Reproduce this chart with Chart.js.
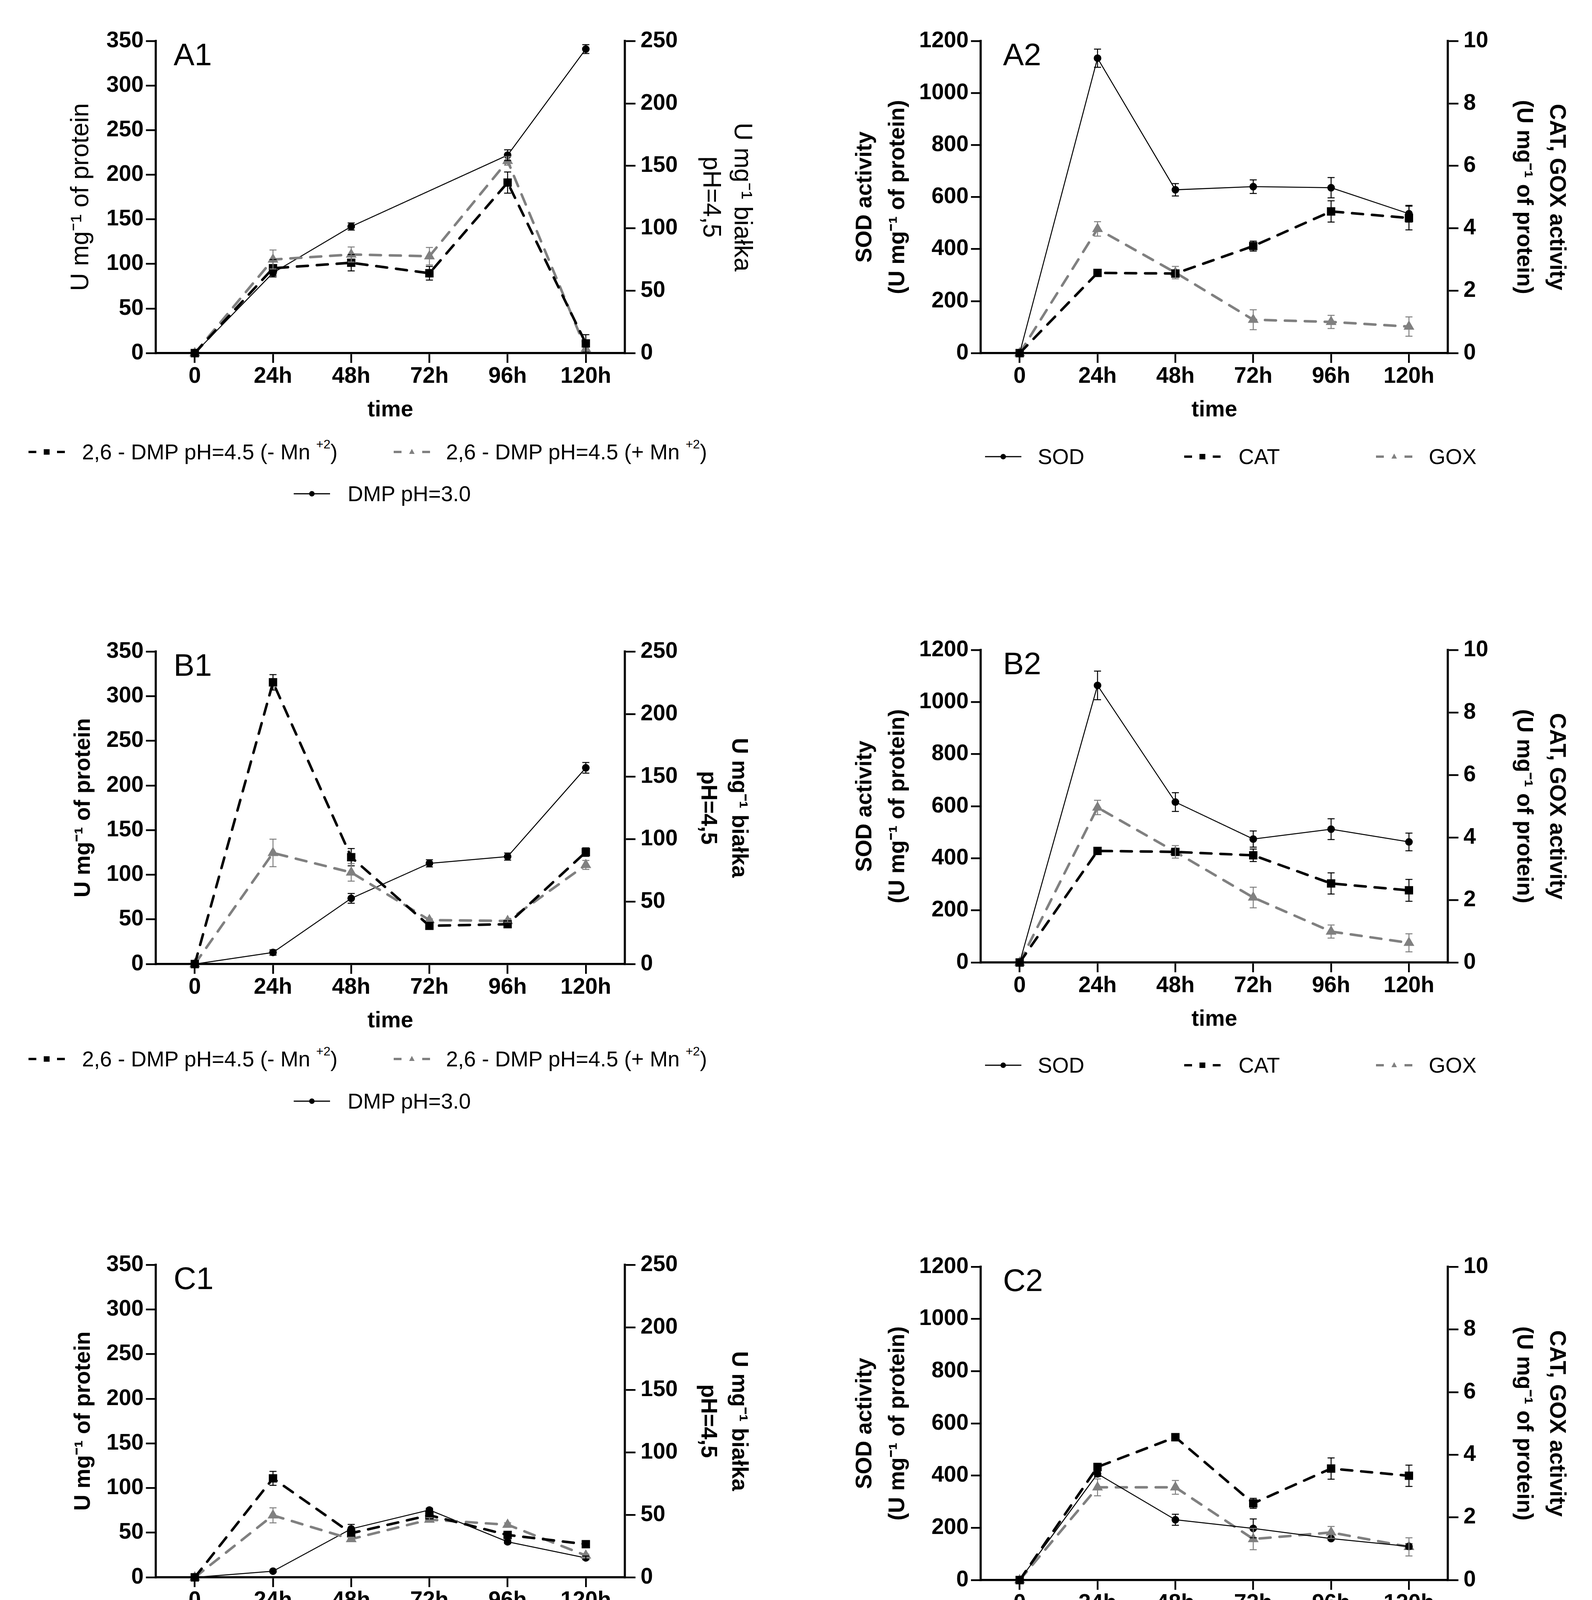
<!DOCTYPE html>
<html>
<head>
<meta charset="utf-8">
<script src="https://cdn.jsdelivr.net/npm/chart.js@4.4.1/dist/chart.umd.min.js"></script>
<style>
  html, body { margin: 0; padding: 0; background: #fff; }
  body { width: 4076px; height: 4472px; position: relative; overflow: hidden;
         font-family: "Liberation Sans", Arial, sans-serif; }
  canvas { position: absolute; }
  .legend-item { position: absolute; display: flex; align-items: center; height: 60px;
                 font-size: 55px; line-height: 60px; color: #000; white-space: nowrap; }
  .legend-item svg { flex: none; }
  .legend-item sup { font-size: 32px; line-height: 0; vertical-align: 0; position: relative; top: -28px; }
</style>
</head>
<body>
<script>
// ---- data ----
const timeLabels = ["0", "24h", "48h", "72h", "96h", "120h"];

// axis ranges: [min, max, step]
const col1LeftRange = [0, 350, 50];
const col1RightRange = [0, 250, 50];
const col2LeftRange = [0, 1200, 200];
const col2RightRange = [0, 10, 2];

// A1 (pH 4.5 series on the right axis)
const a1Dmp30 = [0, 90, 142, null, 222, 341];
const a1Dmp30Err = [0, 3, 4, 0, 6, 5];
const a1MinusMn = [0, 68, 72.4, 64, 136.6, 7.8];
const a1MinusMnErr = [0, 7, 6.5, 5.5, 8.5, 7];
const a1PlusMn = [0, 75, 79, 77.6, 154, 3.4];
const a1PlusMnErr = [0, 7.6, 6, 7, 3.5, 0];

// A2 (CAT, GOX on the right axis)
const a2Sod = [0, 1134, 628, 640, 636, 536];
const a2SodErr = [0, 35, 24, 26, 39, 32];
const a2Cat = [0, 2.57, 2.55, 3.43, 4.54, 4.33];
const a2CatErr = [0, 0.05, 0.08, 0.16, 0.34, 0.38];
const a2Gox = [0, 3.98, 2.58, 1.07, 1.0, 0.85];
const a2GoxErr = [0, 0.23, 0.2, 0.32, 0.21, 0.31];

// B1
const b1Dmp30 = [0, 13, 73.6, 112.8, 120.4, 219.8];
const b1Dmp30Err = [0, 3, 5.5, 4, 4, 6];
const b1MinusMn = [0, 225.4, 85.5, 30.6, 31.9, 89.6];
const b1MinusMnErr = [0, 6.2, 6.9, 1.5, 1.5, 3.4];
const b1PlusMn = [0, 88.9, 73.3, 35.2, 34.5, 79.3];
const b1PlusMnErr = [0, 11, 7, 1, 1, 3.6];

// B2
const b2Sod = [0, 1064, 616, 474, 512, 463];
const b2SodErr = [0, 55, 36, 31, 40, 34];
const b2Cat = [0, 3.57, 3.54, 3.43, 2.53, 2.31];
const b2CatErr = [0, 0.05, 0.05, 0.2, 0.34, 0.35];
const b2Gox = [0, 4.96, 3.54, 2.08, 0.99, 0.63];
const b2GoxErr = [0, 0.23, 0.2, 0.33, 0.21, 0.29];

// C1
const c1Dmp30 = [0, 6.9, 54.3, 75.4, 39.8, 21.8];
const c1Dmp30Err = [0, 1.5, 5, 2, 2, 2];
const c1MinusMn = [0, 79.2, 35.3, 49.7, 33.9, 26.5];
const c1MinusMnErr = [0, 5.6, 1.5, 1.5, 1.5, 1];
const c1PlusMn = [0, 49.6, 30.6, 46.2, 42.1, 17.5];
const c1PlusMnErr = [0, 6, 1.5, 1.5, 1.5, 1];

// C2
const c2Sod = [0, 407, 231, 198, 159, 129];
const c2SodErr = [0, 10, 21, 36, 6, 10];
const c2Cat = [0, 3.61, 4.56, 2.45, 3.56, 3.33];
const c2CatErr = [0, 0.05, 0.05, 0.16, 0.34, 0.34];
const c2Gox = [0, 2.96, 2.96, 1.31, 1.52, 1.06];
const c2GoxErr = [0, 0.27, 0.22, 0.34, 0.19, 0.29];

const labelMinusMn = "2,6 - DMP pH=4.5 (- Mn ⁺²)";
const labelPlusMn = "2,6 - DMP pH=4.5 (+ Mn ⁺²)";
const labelDmp30 = "DMP pH=3.0";

// ---- styles / layout ----
const FONT = '"Liberation Sans", Arial, sans-serif';
Chart.defaults.font.family = FONT;
Chart.defaults.color = "#000";

const GRAY = "#808080";
const STYLE = {
  solid: { borderColor: "#000", backgroundColor: "#000", borderWidth: 2.5,
           pointStyle: "circle", pointRadius: 8.5 },
  blackDash: { borderColor: "#000", backgroundColor: "#000", borderWidth: 6.5,
               borderDash: [28, 23], borderCapStyle: "round", pointStyle: "rect", pointRadius: 10.5 },
  grayDash: { borderColor: GRAY, backgroundColor: GRAY, borderWidth: 6.5,
              borderDash: [28, 23], borderCapStyle: "round", pointStyle: "triangle", pointRadius: 9.5 }
};

const PAD_TOP = 80;
const X_AXIS_H = 180;
const COL = {
  1: { left: 0, width: 2000, leftW: 398.6, rightW: 400, labelDx: 46 },
  2: { left: 2040, width: 2036, leftW: 471, rightW: 369, labelDx: 57 }
};

// error bars drawn through the dataset's own y scale
const errorBars = {
  id: "errorBars",
  afterDatasetsDraw(chart) {
    const { ctx, chartArea } = chart;
    chart.data.datasets.forEach((ds, i) => {
      if (!ds.errors) return;
      const meta = chart.getDatasetMeta(i);
      const ys = chart.scales[meta.yAxisID];
      ctx.save();
      ctx.beginPath();
      ctx.rect(chartArea.left, chartArea.top - 40, chartArea.width, chartArea.height + 40);
      ctx.clip();
      ctx.strokeStyle = ds.borderColor;
      ctx.lineWidth = 2.5;
      meta.data.forEach((pt, j) => {
        const v = ds.data[j], e = ds.errors[j];
        if (v == null || !e) return;
        const x = pt.x;
        const y1 = ys.getPixelForValue(v + e);
        const y2 = ys.getPixelForValue(v - e);
        ctx.beginPath();
        ctx.moveTo(x, y1); ctx.lineTo(x, y2);
        ctx.moveTo(x - 9, y1); ctx.lineTo(x + 9, y1);
        ctx.moveTo(x - 9, y2); ctx.lineTo(x + 9, y2);
        ctx.stroke();
      });
      ctx.restore();
    });
  }
};

const panelLabel = {
  id: "panelLabel",
  afterDraw(chart, args, opts) {
    const { ctx, chartArea } = chart;
    ctx.save();
    ctx.font = "80px " + FONT;
    ctx.fillStyle = "#000";
    ctx.textBaseline = "alphabetic";
    ctx.fillText(opts.text, chartArea.left + opts.dx, chartArea.top + 62);
    ctx.restore();
  }
};

function axisCommon(tickLen, pad) {
  return {
    grid: { display: true, drawOnChartArea: false, drawTicks: true, tickLength: tickLen,
            lineWidth: 4.5, tickWidth: 4.5, tickColor: "#000", color: "#000" },
    border: { display: true, color: "#000", width: 5.5 },
    ticks: { color: "#000", font: { size: 57, weight: "bold" }, padding: pad }
  };
}

function yAxis(range, position, width, title) {
  const c = axisCommon(position === "left" ? 25 : 27, position === "left" ? 6 : 13);
  return Object.assign(c, {
    type: "linear", position, min: range[0], max: range[1],
    ticks: Object.assign(c.ticks, { stepSize: range[2], callback: v => String(v) }),
    title: Object.assign({ display: true, color: "#000", align: "center" }, title),
    afterFit: s => { s.width = width; }
  });
}

function makePanel(p) {
  const g = COL[p.col];
  const canvas = document.createElement("canvas");
  canvas.width = g.width;
  canvas.height = PAD_TOP + (p.B - p.T) + X_AXIS_H;
  canvas.style.left = g.left + "px";
  canvas.style.top = (p.T - PAD_TOP) + "px";
  document.body.appendChild(canvas);

  const xc = axisCommon(25, 1);
  const x = Object.assign(xc, {
    type: "category", offset: true,
    ticks: Object.assign(xc.ticks, { autoSkip: false, maxRotation: 0, minRotation: 0 }),
    title: { display: true, text: "time", color: "#000",
             font: { size: 57, weight: "bold", lineHeight: 1.2 }, padding: { top: 0, bottom: 0 } },
    afterFit: s => { s.height = X_AXIS_H; }
  });
  x.grid.offset = false;

  const chart = new Chart(canvas, {
    type: "line",
    data: { labels: timeLabels, datasets: p.datasets },
    options: {
      responsive: false, animation: false, devicePixelRatio: 1,
      layout: { padding: { top: PAD_TOP, left: 0, right: 0, bottom: 0 } },
      spanGaps: true,
      elements: { line: { tension: 0, fill: false }, point: { borderWidth: 1 } },
      scales: {
        x,
        y: yAxis(p.leftRange, "left", g.leftW, p.leftTitle),
        y1: yAxis(p.rightRange, "right", g.rightW, p.rightTitle)
      },
      plugins: {
        legend: { display: false },
        tooltip: { enabled: false },
        panelLabel: { text: p.id, dx: g.labelDx }
      }
    },
    plugins: [errorBars, panelLabel]
  });
  buildLegend(chart, p);
  return chart;
}

// HTML legend built from the chart's own datasets
const SVGNS = "http://www.w3.org/2000/svg";
function sampleSvg(ds, w) {
  const svg = document.createElementNS(SVGNS, "svg");
  svg.setAttribute("width", w); svg.setAttribute("height", 60);
  const line = document.createElementNS(SVGNS, "line");
  line.setAttribute("x1", 0); line.setAttribute("x2", 93);
  line.setAttribute("y1", 30); line.setAttribute("y2", 30);
  line.setAttribute("stroke", ds.borderColor);
  line.setAttribute("stroke-width", ds.borderDash ? 6 : 3);
  if (ds.borderDash) line.setAttribute("stroke-dasharray", "20 53 20");
  svg.appendChild(line);
  let m;
  if (ds.pointStyle === "circle") {
    m = document.createElementNS(SVGNS, "circle");
    m.setAttribute("cx", 46.5); m.setAttribute("cy", 30); m.setAttribute("r", 7);
  } else if (ds.pointStyle === "rect") {
    m = document.createElementNS(SVGNS, "rect");
    m.setAttribute("x", 39); m.setAttribute("y", 23); m.setAttribute("width", 15); m.setAttribute("height", 14);
  } else {
    m = document.createElementNS(SVGNS, "polygon");
    m.setAttribute("points", "46.5,22 53.5,35 39.5,35");
  }
  m.setAttribute("fill", ds.borderColor);
  svg.appendChild(m);
  return svg;
}

function buildLegend(chart, p) {
  chart.data.datasets.forEach((ds, i) => {
    const s = p.legendSlots[i];
    const item = document.createElement("div");
    item.className = "legend-item";
    item.style.left = s.x + "px";
    item.style.top = (p.legendRows[s.row] - 30) + "px";
    item.appendChild(sampleSvg(ds, s.tx - s.x));
    const span = document.createElement("span");
    span.innerHTML = ds.label.replace("⁺²", "<sup>+2</sup>");
    item.appendChild(span);
    document.body.appendChild(item);
  });
}

const col1Slots = [{ x: 73, tx: 210, row: 0 }, { x: 1008, tx: 1142, row: 0 }, { x: 752, tx: 890, row: 1 }];
const col2Slots = [{ x: 2522, tx: 2657, row: 0 }, { x: 3032, tx: 3171, row: 0 }, { x: 3523, tx: 3658, row: 0 }];

function col1Sets(minus, minusErr, plus, plusErr, dmp, dmpErr) {
  return [
    Object.assign({ label: labelMinusMn, data: minus, errors: minusErr, yAxisID: "y1", clip: false }, STYLE.blackDash),
    Object.assign({ label: labelPlusMn, data: plus, errors: plusErr, yAxisID: "y1", clip: false }, STYLE.grayDash),
    Object.assign({ label: labelDmp30, data: dmp, errors: dmpErr, yAxisID: "y", clip: false }, STYLE.solid)
  ];
}
function col2Sets(sod, sodErr, cat, catErr, gox, goxErr) {
  return [
    Object.assign({ label: "SOD", data: sod, errors: sodErr, yAxisID: "y", clip: false }, STYLE.solid),
    Object.assign({ label: "CAT", data: cat, errors: catErr, yAxisID: "y1", clip: false }, STYLE.blackDash),
    Object.assign({ label: "GOX", data: gox, errors: goxErr, yAxisID: "y1", clip: false }, STYLE.grayDash)
  ];
}

const titleA1Left = { text: "U mg⁻¹ of protein", font: { size: 64, weight: "normal", lineHeight: 1.25 }, padding: { top: 168, bottom: 0 } };
const titleA1Right = { text: ["U mg⁻¹ białka", "pH=4,5"], font: { size: 64, weight: "normal", lineHeight: 1.25 }, padding: { top: 61, bottom: 0 } };
const titleBCLeft = { text: "U mg⁻¹ of protein", font: { size: 57, weight: "bold", lineHeight: 1.4 }, padding: { top: 174, bottom: 0 } };
const titleBCRight = { text: ["U mg⁻¹ białka", "pH=4,5"], font: { size: 57, weight: "bold", lineHeight: 1.4 }, padding: { top: 69, bottom: 0 } };
const titleSod = { text: ["SOD activity", "(U mg⁻¹ of protein)"], font: { size: 57, weight: "bold", lineHeight: 1.48 }, padding: { top: 133, bottom: 0 } };
const titleCatGox = { text: ["CAT, GOX activity", "(U mg⁻¹ of protein)"], font: { size: 57, weight: "bold", lineHeight: 1.48 }, padding: { top: 49, bottom: 0 } };

const panels = [
  { id: "A1", col: 1, T: 105, B: 904, legendRows: [1157, 1264], legendSlots: col1Slots,
    leftRange: col1LeftRange, rightRange: col1RightRange, leftTitle: titleA1Left, rightTitle: titleA1Right,
    datasets: col1Sets(a1MinusMn, a1MinusMnErr, a1PlusMn, a1PlusMnErr, a1Dmp30, a1Dmp30Err) },
  { id: "A2", col: 2, T: 105, B: 904, legendRows: [1169], legendSlots: col2Slots,
    leftRange: col2LeftRange, rightRange: col2RightRange, leftTitle: titleSod, rightTitle: titleCatGox,
    datasets: col2Sets(a2Sod, a2SodErr, a2Cat, a2CatErr, a2Gox, a2GoxErr) },
  { id: "B1", col: 1, T: 1668, B: 2468, legendRows: [2711, 2819], legendSlots: col1Slots,
    leftRange: col1LeftRange, rightRange: col1RightRange, leftTitle: titleBCLeft, rightTitle: titleBCRight,
    datasets: col1Sets(b1MinusMn, b1MinusMnErr, b1PlusMn, b1PlusMnErr, b1Dmp30, b1Dmp30Err) },
  { id: "B2", col: 2, T: 1664, B: 2464, legendRows: [2727], legendSlots: col2Slots,
    leftRange: col2LeftRange, rightRange: col2RightRange, leftTitle: titleSod, rightTitle: titleCatGox,
    datasets: col2Sets(b2Sod, b2SodErr, b2Cat, b2CatErr, b2Gox, b2GoxErr) },
  { id: "C1", col: 1, T: 3238, B: 4038, legendRows: [4281, 4396], legendSlots: col1Slots,
    leftRange: col1LeftRange, rightRange: col1RightRange, leftTitle: titleBCLeft, rightTitle: titleBCRight,
    datasets: col1Sets(c1MinusMn, c1MinusMnErr, c1PlusMn, c1PlusMnErr, c1Dmp30, c1Dmp30Err) },
  { id: "C2", col: 2, T: 3243, B: 4045, legendRows: [4312], legendSlots: col2Slots,
    leftRange: col2LeftRange, rightRange: col2RightRange, leftTitle: titleSod, rightTitle: titleCatGox,
    datasets: col2Sets(c2Sod, c2SodErr, c2Cat, c2CatErr, c2Gox, c2GoxErr) }
];

panels.forEach(makePanel);
</script>
</body>
</html>
